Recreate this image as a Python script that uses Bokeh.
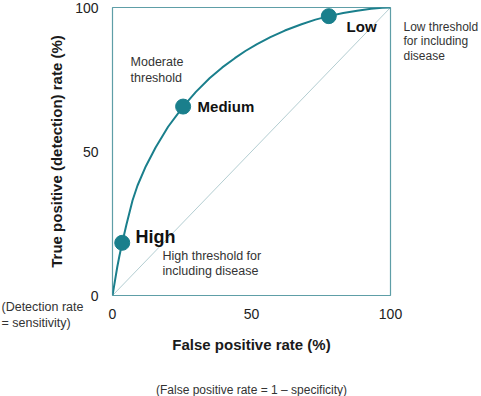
from bokeh.plotting import figure
from bokeh.models import Range1d, FixedTicker, Label, Title
from bokeh.embed import file_html
from bokeh.resources import INLINE

# ROC curve (false positive rate %, true positive rate %)
fpr = [0, 1, 1.7, 2.5, 3.5, 5, 7.2, 9, 12, 15.5, 20, 25.4, 30, 35, 39.5, 44,
       47.8, 52, 56.8, 62, 68, 73, 77.8, 83, 88, 93, 97, 100]
tpr = [0, 5.8, 9.8, 13.8, 18.3, 24.6, 33, 38.2, 44.9, 51.4, 58.6, 65.6, 70.7,
       75.5, 79.2, 82.4, 84.9, 87.3, 89.7, 92.0, 94.2, 95.8, 97.0, 98.1, 98.9,
       99.6, 99.9, 100]

# threshold points
thr_fpr = [3.5, 25.4, 77.8]
thr_tpr = [18.3, 65.6, 97.0]
thr_names = ["High", "Medium", "Low"]

# chance diagonal
diag_x = [0, 100]
diag_y = [0, 100]

ticks = [0, 50, 100]

FONT = "Liberation Sans"
TEAL = "#1a7f8c"

p = figure(width=481, height=396, output_backend="svg", toolbar_location=None,
           x_range=Range1d(0, 100), y_range=Range1d(0, 100),
           min_border_left=112, min_border_right=91,
           min_border_top=7, min_border_bottom=101)
p.grid.visible = False
p.outline_line_color = "#5e9ea7"
p.outline_line_width = 1.2
p.background_fill_color = "white"
p.border_fill_color = "white"

for ax in (p.xaxis, p.yaxis):
    ax.ticker = FixedTicker(ticks=ticks)
    ax.axis_line_color = None
    ax.major_tick_line_color = None
    ax.minor_tick_line_color = None
    ax.major_label_text_font = FONT
    ax.major_label_text_font_size = "14px"
    ax.major_label_text_color = "#222222"
    ax.axis_label_text_font = FONT
    ax.axis_label_text_font_size = "15px"
    ax.axis_label_text_font_style = "bold"
    ax.axis_label_text_color = "#1a1a1a"

p.xaxis.major_label_standoff = 7
p.yaxis.major_label_standoff = 8
p.xaxis.axis_label = "False positive rate (%)"
p.yaxis.axis_label = "True positive (detection) rate (%)"
p.xaxis.axis_label_standoff = 14
p.yaxis.axis_label_standoff = 7

p.line(diag_x, diag_y, line_color="#9fc0c5", line_width=0.8)
p.line(fpr, tpr, line_color=TEAL, line_width=2)
p.scatter(thr_fpr, thr_tpr, size=15, fill_color=TEAL, line_color=TEAL)

# point labels
name_style = {"High": ("18px", 8.3, 20.2), "Medium": ("15px", 30.6, 65.6),
              "Low": ("15px", 84.2, 93.4)}
for nm in thr_names:
    fs, lx, ly = name_style[nm]
    p.add_layout(Label(x=lx, y=ly, text=nm, text_font=FONT, text_font_size=fs,
                       text_font_style="bold", text_color="#111111",
                       text_baseline="middle", text_align="left"))

def note(x, y, txt, size="12.5px", align="left", baseline="top", units="data",
         place=None, lh=1.12, pad=0):
    lab = Label(x=x, y=y, text=txt, text_font=FONT, text_font_size=size,
                text_color="#333333", text_align=align,
                text_baseline=baseline, text_line_height=lh,
                x_units=units, y_units=units, padding=pad)
    if place is None:
        p.add_layout(lab)
    else:
        p.add_layout(lab, place)

note(6.5, 83.5, "Moderate\nthreshold")
note(18.0, 16.3, "High threshold for\nincluding disease")
# notes outside the frame, placed in the side panels (screen offsets)
note(13, 276, "Low threshold\nfor including\ndisease", size="12px",
     units="screen", place="right", lh=1.05)
note(-113, 91.1, "(Detection rate\n= sensitivity)", units="screen",
     place="below", lh=1.12, pad=2)
p.add_layout(Title(text="(False positive rate = 1 \u2013 specificity)",
                   align="center", vertical_align="middle", standoff=-15,
                   text_font=FONT, text_font_size="12px",
                   text_font_style="normal", text_color="#333333"), "below")

open("out.html", "w").write(file_html(p, INLINE))
